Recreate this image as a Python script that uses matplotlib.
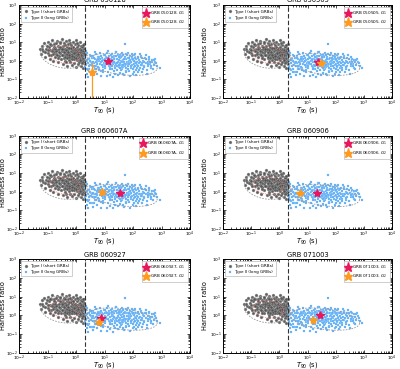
import numpy as np
import matplotlib
matplotlib.use("Agg")
import matplotlib.pyplot as plt
from matplotlib.ticker import LogLocator, NullFormatter

# ---------------- data (log10 T90 [s], log10 hardness ratio) ----------------
type1_logT = [-1.25,-1.22,-1.2,-1.15,-1.12,-1.1,-1.05,-1.0,-0.98,-0.95,-0.92,-0.9,
 -0.88,-0.86,-0.84,-0.82,-0.8,-0.78,-0.76,-0.74,-0.72,-0.7,-0.68,-0.66,-0.64,-0.62,-0.6,-0.58,-0.56,-0.55,-0.53,-0.52,-0.5,-0.85,-0.75,-0.65,-0.6,
 -0.48,-0.47,-0.46,-0.45,-0.44,-0.42,-0.41,-0.4,-0.38,-0.37,-0.36,-0.35,-0.33,-0.32,-0.31,-0.3,-0.28,-0.27,-0.26,-0.25,-0.23,-0.22,-0.21,-0.2,-0.19,-0.18,-0.16,-0.15,-0.14,-0.13,-0.12,-0.11,-0.1,-0.42,-0.35,-0.3,-0.25,-0.2,-0.15,-0.4,
 -0.09,-0.08,-0.07,-0.06,-0.05,-0.04,-0.03,-0.02,-0.01,0.0,0.01,0.02,0.03,0.04,0.05,0.06,0.07,0.08,0.09,0.1,0.11,0.12,0.13,0.14,0.15,0.16,0.17,0.18,0.19,0.2,0.21,0.22,0.23,0.24,0.25,0.26,0.27,0.28,0.29,0.3,0.3,0.29,0.27,0.25,0.22,0.18,0.14,0.1,0.06,0.02,-0.02,-0.06,0.28,0.24,0.2,
 -1.18,-1.08,-1.02,-0.96,-0.9,-0.8,-0.77,-0.7,-0.63,-0.57,-0.5,-0.45,-0.38,-0.33,-0.28,-0.24,-0.18,-0.14,-0.08,-0.04,0.0,0.04,0.08,0.12,0.16,0.2,0.24,0.27,0.29,-0.55,-0.2,0.05,-0.7,-1.0,0.15,-0.35,0.25,-0.12,-0.5,-0.25]
type1_logHR = [0.6,0.35,0.8,0.5,0.95,0.2,0.65,0.4,1.0,0.75,0.1,0.55,
 0.85,0.3,1.1,0.6,0.0,0.45,0.9,0.2,0.7,0.35,1.05,0.55,-0.1,0.8,0.25,0.6,0.95,0.4,0.1,0.7,0.5,0.5,0.6,0.3,0.45,
 1.15,0.3,0.8,-0.2,0.55,0.15,0.95,0.4,0.65,0.0,1.05,0.3,0.75,0.5,-0.3,0.2,0.9,0.6,0.05,0.4,1.1,0.3,0.7,-0.1,0.5,0.15,0.85,0.35,0.6,-0.25,0.25,1.0,0.45,0.45,0.55,0.35,0.7,0.25,0.1,0.2,
 0.7,0.1,0.55,-0.15,0.35,0.9,0.2,0.6,-0.35,0.4,1.1,0.05,0.75,0.3,0.5,-0.2,0.25,0.85,0.15,0.6,-0.05,0.4,1.0,0.2,0.65,-0.3,0.35,0.0,0.8,0.45,0.1,0.55,-0.4,0.3,0.7,-0.1,0.2,0.5,0.05,0.35,-0.2,0.9,0.6,0.15,0.25,0.3,0.45,0.3,0.45,0.3,0.45,0.2,0.0,-0.05,-0.15,
 0.6,0.45,0.8,0.3,0.9,0.35,0.75,0.5,0.15,0.75,0.3,0.65,0.85,0.15,0.45,0.2,0.7,0.25,0.4,0.6,0.15,0.55,0.35,0.15,0.55,0.75,0.5,0.4,0.25,1.0,0.95,0.95,0.95,0.55,0.05,-0.1,0.85,0.75,0.6,0.3]

type2_logT = [0.31,0.33,0.35,0.37,0.39,0.41,0.43,0.45,0.47,0.49,0.51,0.53,0.55,0.57,0.59,0.34,0.42,0.5,0.58,0.36,
 0.61,0.63,0.65,0.67,0.69,0.71,0.73,0.75,0.77,0.79,0.81,0.83,0.85,0.87,0.89,0.91,0.93,0.95,0.97,0.99,0.62,0.68,0.74,0.8,0.86,0.9,0.96,0.7,0.84,0.98,
 1.01,1.03,1.05,1.07,1.09,1.11,1.13,1.15,1.17,1.19,1.21,1.23,1.25,1.27,1.29,1.31,1.33,1.35,1.37,1.39,1.02,1.08,1.14,1.2,1.26,1.32,1.38,1.06,1.16,1.24,1.3,1.36,1.12,1.28,1.34,
 1.41,1.43,1.45,1.47,1.49,1.51,1.53,1.55,1.57,1.59,1.61,1.63,1.65,1.67,1.69,1.71,1.72,1.73,1.75,1.77,1.79,1.42,1.48,1.54,1.6,1.66,1.74,1.78,1.44,1.5,1.56,1.62,1.68,1.76,1.46,1.58,1.64,1.7,
 1.81,1.83,1.85,1.87,1.89,1.91,1.93,1.95,1.97,1.99,2.01,2.03,2.05,2.07,2.09,2.11,2.13,2.15,2.17,2.19,1.84,1.9,1.96,2.02,2.08,2.14,2.2,1.86,1.94,2.0,2.06,2.12,1.88,2.04,2.18,
 2.22,2.24,2.26,2.28,2.3,2.33,2.36,2.39,2.42,2.45,2.48,2.51,2.54,2.57,2.6,2.64,2.68,2.72,2.78,2.85,2.95,2.25,2.35,2.44,2.5,2.58,2.66,2.32,2.4,2.55,2.7,2.76,
 0.4,0.46,0.52,0.56,0.6,0.64,0.66,0.72,0.76,0.78,0.82,0.88,0.92,0.94,1.0,1.04,1.1,1.18,1.22,1.27,1.33,1.37,1.4,1.45,1.52,1.57,1.6,1.66,1.72,1.75,1.8,1.82,1.87,1.92,1.97,2.02,2.07,2.1,2.16,2.21,2.27,2.31,2.38,2.46,2.53,2.62,2.73,2.82,0.48,0.38,1.15,1.5,1.3,1.85,2.0,1.65,1.0,0.7,1.25,1.55]
type2_logHR = [0.2,-0.35,0.0,-0.7,0.4,-0.15,-0.9,0.1,-0.45,0.3,-0.25,-0.05,-0.6,0.15,-0.3,0.5,-0.5,0.0,-0.8,-0.2,
 0.25,-0.15,-0.45,0.1,-0.3,0.35,-0.7,-0.05,0.2,-0.4,0.0,-0.2,0.4,-0.55,-0.1,0.15,-0.35,0.05,-0.25,0.3,-0.6,0.45,-0.2,0.2,-0.85,0.0,-0.5,-0.1,0.1,-0.15,
 -0.05,-0.4,0.2,-0.2,0.4,-0.6,0.0,-0.3,0.25,-0.1,-0.75,0.1,-0.45,0.35,-0.2,0.0,-0.55,0.15,-0.3,0.45,0.3,-0.85,0.5,-0.35,-0.05,0.25,-0.15,-0.1,0.1,-0.25,-0.9,-0.4,-0.2,0.05,-0.1,
 -0.2,0.1,-0.5,0.3,-0.1,-0.35,0.15,-0.65,0.0,-0.25,0.4,-0.45,0.05,-0.15,-0.8,0.2,0.92,-0.3,0.1,-0.55,-0.05,0.45,-0.75,-0.15,0.25,-0.35,0.35,-0.2,-0.3,0.05,0.3,-0.1,0.1,-0.4,-0.05,-0.5,-0.7,-0.05,
 0.15,-0.3,0.0,-0.55,0.25,-0.15,-0.4,0.1,-0.25,-0.7,0.05,-0.35,0.3,-0.1,-0.5,0.1,-0.25,-0.05,-0.6,0.2,0.4,-0.85,0.35,-0.2,0.15,-0.4,-0.15,-0.1,-0.05,-0.45,-0.3,-0.75,0.05,0.0,-0.3,
 0.05,-0.4,-0.1,0.25,-0.25,-0.6,0.0,-0.3,0.15,-0.15,-0.5,-0.05,-0.3,0.1,-0.2,-0.4,-0.1,-0.25,-0.05,-0.3,-0.42,0.35,-0.45,0.3,-0.7,-0.1,0.05,-0.15,-0.05,0.2,-0.45,0.1,
 0.05,-0.3,0.25,-0.15,-0.05,0.15,-0.3,0.05,-0.35,0.1,-0.5,0.25,-0.25,-0.6,0.1,-0.15,0.15,-0.45,0.3,-0.3,0.1,-0.7,0.25,-0.15,-0.25,0.2,-0.35,0.3,-0.2,-0.6,0.3,-0.45,0.15,-0.3,0.2,-0.6,0.35,-0.15,0.15,-0.5,-0.25,0.15,-0.35,0.1,-0.2,-0.3,0.05,-0.15,-0.6,-0.45,0.05,0.2,0.2,-0.2,0.1,-0.25,-0.3,-0.45,0.2,-0.4]

grb_names = ["GRB 050128", "GRB 050505", "GRB 060607A", "GRB 060906", "GRB 060927", "GRB 071003"]
g1_T90 = [13.5, 23.0, 36.0, 21.0, 7.6, 27.0]
g1_HR = [0.98, 0.82, 0.88, 0.85, 0.69, 1.0]
g2_T90 = [3.7, 30.0, 8.3, 5.6, 6.5, 16.0]
g2_HR = [0.25, 0.78, 0.95, 0.8, 0.46, 0.56]
g2_HR_err_lo = [0.2499, 0.0, 0.0, 0.0, 0.0, 0.0]
g2_HR_err_hi = [0.45, 0.0, 0.0, 0.0, 0.0, 0.0]

# ellipse params: center logT, center logHR, semi-major, semi-minor, angle (deg)
ell_type1_outer = [-0.42, 0.3, 0.85, 0.68, -25]
ell_type1_inner = [-0.38, 0.32, 0.55, 0.45, -25]
ell_type2_outer = [1.62, -0.2, 1.25, 0.55, -12]

# ---------------- styling ----------------
plt.rcParams['font.family'] = ['DejaVu Sans']
C_T1 = '#4d4d4d'
C_T2 = '#3a9bf0'
C_G1 = '#e8175d'
C_G2 = '#ff9a1f'

fig = plt.figure(figsize=(4.0, 3.69), dpi=100)
W, H = 400.0, 369.0
cols = [(19, 190), (223, 392)]
ylabel_x = [-0.078, -0.09]
rows = [(5, 97.7), (135.7, 229), (259.3, 352.7)]

t1x = 10 ** np.array(type1_logT)
t1y = 10 ** np.array(type1_logHR)
t2x = 10 ** np.array(type2_logT)
t2y = 10 ** np.array(type2_logHR)


def ellipse(ax, p, color, ls, lw):
    cx, cy, a, b, ang = p
    th = np.deg2rad(ang)
    phi = np.linspace(0, 2 * np.pi, 200)
    x = cx + a * np.cos(th) * np.cos(phi) - b * np.sin(th) * np.sin(phi)
    y = cy + a * np.sin(th) * np.cos(phi) + b * np.cos(th) * np.sin(phi)
    ax.plot(10 ** x, 10 ** y, color=color, ls=ls, lw=lw, zorder=4)


for i, name in enumerate(grb_names):
    r, c = divmod(i, 2)
    x0, x1 = cols[c]
    y0, y1 = rows[r]
    ax = fig.add_axes([x0 / W, 1 - y1 / H, (x1 - x0) / W, (y1 - y0) / H])
    ax.set_xscale('log')
    ax.set_yscale('log')
    ax.set_xlim(1e-2, 1e4)
    ax.set_ylim(1e-2, 1e3)

    h1 = ax.scatter(t1x, t1y, s=4.5, marker='o', facecolor=C_T1, edgecolor='#9a9a9a',
                    linewidths=0.3, alpha=0.9, zorder=2, label='Type I (short GRBs)')
    h2 = ax.scatter(t2x, t2y, s=4.5, marker='s', facecolor=C_T2, edgecolor='#b8dcff',
                    linewidths=0.3, zorder=2, label='Type II (long GRBs)')
    ellipse(ax, ell_type1_outer, '#9a9a9a', (0, (2, 1.5)), 0.6)
    ellipse(ax, ell_type1_inner, '#f08080', (0, (1, 1.2)), 0.6)
    ellipse(ax, ell_type2_outer, '#9a9a9a', (0, (2, 1.5)), 0.6)

    ax.axvline(2.0, color='#333333', ls=(0, (4, 2)), lw=0.8, zorder=3)

    if g2_HR_err_lo[i] > 0:
        ax.errorbar([g2_T90[i]], [g2_HR[i]], yerr=[[g2_HR_err_lo[i]], [g2_HR_err_hi[i]]],
                    fmt='none', ecolor=C_G2, elinewidth=0.9, zorder=5)
    s1, = ax.plot([g1_T90[i]], [g1_HR[i]], ls='none', marker='*', ms=6, color=C_G1,
                  mec=C_G1, zorder=6, label=name + '- $G_1$')
    s2, = ax.plot([g2_T90[i]], [g2_HR[i]], ls='none', marker='*', ms=6, color=C_G2,
                  mec=C_G2, zorder=6, label=name + '- $G_2$')

    leg1 = ax.legend(handles=[h1, h2], loc='upper left', fontsize=3.0, frameon=True,
                     fancybox=False, edgecolor='#bbbbbb', framealpha=1, handletextpad=0.3,
                     borderpad=0.6, handlelength=1.3, markerscale=1.0, borderaxespad=0.5,
                     labelspacing=0.5)
    leg1.get_frame().set_linewidth(0.5)
    ax.add_artist(leg1)
    leg2 = ax.legend(handles=[s1, s2], loc='upper right', fontsize=3.0, frameon=True,
                     fancybox=False, edgecolor='#bbbbbb', framealpha=1, handletextpad=0.3,
                     borderpad=0.5, handlelength=1.3, markerscale=1.1, borderaxespad=0.5,
                     labelspacing=0.4)
    leg2.get_frame().set_linewidth(0.5)

    ax.xaxis.set_major_locator(LogLocator(base=10, numticks=10))
    ax.yaxis.set_major_locator(LogLocator(base=10, numticks=10))
    ax.xaxis.set_minor_locator(LogLocator(base=10, subs=np.arange(2, 10), numticks=20))
    ax.yaxis.set_minor_locator(LogLocator(base=10, subs=np.arange(2, 10), numticks=20))
    ax.xaxis.set_minor_formatter(NullFormatter())
    ax.yaxis.set_minor_formatter(NullFormatter())
    ax.tick_params(which='both', direction='in', top=True, right=True, labelsize=3.2,
                   width=0.5)
    ax.tick_params(axis='x', which='both', pad=0.8)
    ax.tick_params(axis='y', which='both', pad=1.0)
    ax.tick_params(which='major', length=2.5)
    ax.tick_params(which='minor', length=1.3)
    for sp in ax.spines.values():
        sp.set_linewidth(0.7)

    ax.set_title(name, fontsize=4.8, pad=2.0)
    ax.set_xlabel('$T_{90}$ (s)', fontsize=4.8)
    ax.set_ylabel('Hardness ratio', fontsize=4.8)
    ax.xaxis.set_label_coords(0.5, -0.075)
    ax.yaxis.set_label_coords(ylabel_x[c], 0.5)

fig.savefig('out.png', dpi=100)
